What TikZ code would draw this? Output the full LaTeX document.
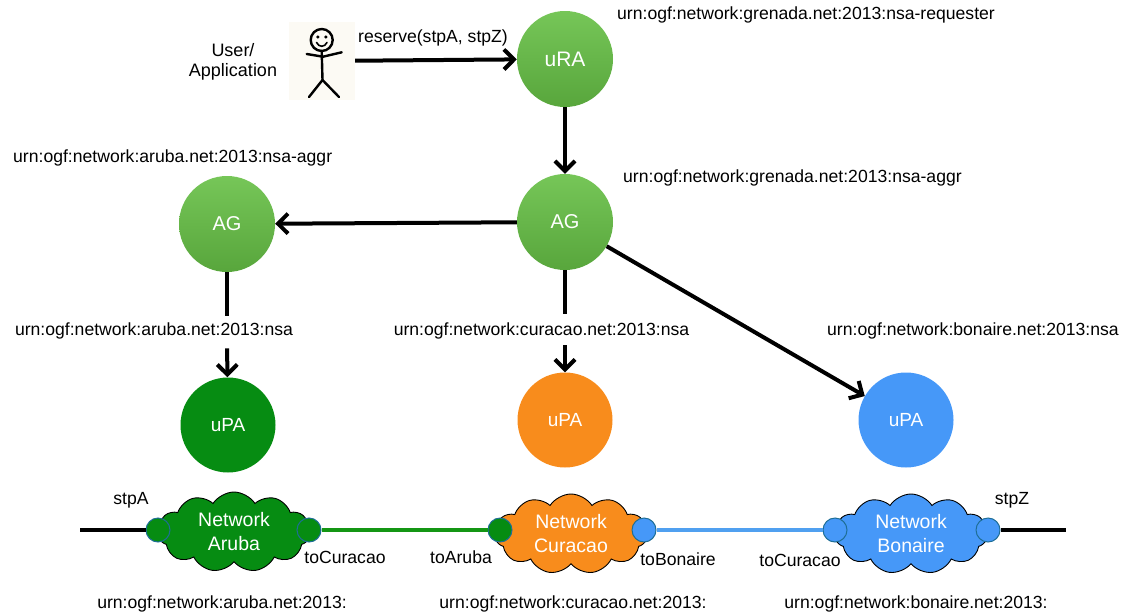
\documentclass[tikz,border=0pt]{standalone}
\usepackage{fontspec}
\setmainfont{Liberation Sans}
\usetikzlibrary{arrows.meta,shapes.symbols}
\definecolor{gtop}{RGB}{118,198,88}
\definecolor{gbot}{RGB}{88,166,60}
\definecolor{dkgreen}{RGB}{6,140,18}
\definecolor{orng}{RGB}{248,140,28}
\definecolor{bblue}{RGB}{70,152,248}
\definecolor{portedge}{RGB}{30,110,150}
\definecolor{lgreen}{RGB}{20,150,20}
\definecolor{lblue}{RGB}{80,160,240}
\definecolor{figbg}{RGB}{252,250,244}
\begin{document}
\begin{tikzpicture}[x=1pt,y=-1pt,
  agent/.style={circle, minimum size=96pt, inner sep=0pt, text=white,
    font=\fontsize{20}{24}\selectfont, top color=gtop, bottom color=gbot, draw=none},
  pa/.style={circle, minimum size=95pt, inner sep=0pt, text=white,
    font=\fontsize{19}{23}\selectfont, fill=#1, draw=none},
  lbl/.style={font=\fontsize{17.6}{21}\selectfont, inner sep=1pt},
  arr/.style={line width=4pt, -{Straight Barb[length=10pt,width=20pt]}},
  plain/.style={line width=4pt},
  netcloud/.style={cloud, cloud puffs=11, cloud puff arc=115, aspect=2, draw=black,
    line width=0.9pt, minimum width=152pt, minimum height=80pt, text=white,
    font=\fontsize{19.5}{24}\selectfont, align=center, inner sep=0pt, fill=#1},
  port/.style={circle, minimum size=24pt, inner sep=0pt, draw=portedge, line width=1pt, fill=#1},
  figline/.style={line width=2.4pt, line cap=round, line join=round}
]
\useasboundingbox (0,0) rectangle (1123,613);

% user
\node[fill=figbg, minimum width=66pt, minimum height=78pt, inner sep=0pt] (user) at (322,61) {};
\draw[figline] (321.7,40) circle (11);
\fill (317.8,37) circle (1.7) (325.8,37) circle (1.7);
\draw[line width=1.6pt, line cap=round] (316.5,42.5) .. controls (319,47.5) and (324.5,47.5) .. (327,42.5);
\draw[figline] (321.7,51) -- (322.5,80);
\draw[figline] (306.7,54) -- (323,56.7) -- (341.7,52.3);
\draw[figline] (309,97) -- (322.5,80) -- (339,97);
\node[lbl, align=center, font=\fontsize{18}{19.5}\selectfont] (usr) at (233,62) {User/\\Application};

% agents
\node[agent, font=\fontsize{21}{24}\selectfont] (uRA) at (565,59) {uRA};
\node[agent] (agG) at (565,222) {AG};
\node[agent] (agA) at (227,224) {AG};
\node[pa=dkgreen] (upA) at (228,425) {uPA};
\node[pa=orng] (upC) at (565,420) {uPA};
\node[pa=bblue] (upB) at (906,420) {uPA};

% labels
\node[lbl, anchor=west] (res) at (357,38) {reserve(stpA, stpZ)};
\node[lbl, anchor=west] (lreq) at (616,15) {urn:ogf:network:grenada.net:2013:nsa-requester};
\node[lbl, anchor=west] (laggA) at (12,158) {urn:ogf:network:aruba.net:2013:nsa-aggr};
\node[lbl, anchor=west] (laggG) at (622,178) {urn:ogf:network:grenada.net:2013:nsa-aggr};
\node[lbl] (lnsaA) at (154,331) {urn:ogf:network:aruba.net:2013:nsa};
\node[lbl] (lnsaC) at (541.5,331) {urn:ogf:network:curacao.net:2013:nsa};
\node[lbl, anchor=west] (lnsaB) at (826,331) {urn:ogf:network:bonaire.net:2013:nsa};

% connectors
\draw[arr] (user) -- (uRA);
\draw[arr] (uRA) -- (agG);
\draw[arr] (agG) -- (agA);
\draw[plain, shorten >=6pt] (agA) -- (agA |- lnsaA.north);
\draw[arr, shorten <=8pt] (agA |- lnsaA.south) -- (upA);
\draw[plain, shorten >=8pt] (agG) -- (agG |- lnsaC.north);
\draw[arr, shorten <=5pt] (agG |- lnsaC.south) -- (upC);
\draw[arr] (agG) -- (upB);

% networks
\node[netcloud=dkgreen] (nA) at (234,532) {Network\\Aruba};
\node[netcloud=orng] (nC) at (571,534) {Network\\Curacao};
\node[netcloud=bblue] (nB) at (911,534) {Network\\Bonaire};

\node[port=dkgreen] (pA1) at (158,530) {};
\node[port=dkgreen] (pA2) at (309,530) {};
\node[port=dkgreen] (pC1) at (500,530) {};
\node[port=bblue] (pC2) at (644,530) {};
\node[port=bblue] (pB1) at (835,530) {};
\node[port=bblue] (pB2) at (988,530) {};

\coordinate (lend) at (80,530);
\coordinate (rend) at (1066,530);
\draw[line width=4pt] (lend) -- (pA1);
\draw[line width=4pt, lgreen] (pA2) -- (pC1);
\draw[line width=4pt, lblue] (pC2) -- (pB1);
\draw[line width=4pt] (pB2) -- (rend);

\node[lbl] (tA) at (131,500) {stpA};
\node[lbl] (tAC) at (345,557) {toCuracao};
\node[lbl] (tCA) at (461,557) {toAruba};
\node[lbl] (tCB) at (678,559) {toBonaire};
\node[lbl] (tBC) at (800,560) {toCuracao};
\node[lbl] (tZ) at (1012,500) {stpZ};

\node[lbl] (bA) at (222,604) {urn:ogf:network:aruba.net:2013:};
\node[lbl] (bC) at (573,604) {urn:ogf:network:curacao.net:2013:};
\node[lbl] (bB) at (916,604) {urn:ogf:network:bonaire.net:2013:};
\end{tikzpicture}
\end{document}
